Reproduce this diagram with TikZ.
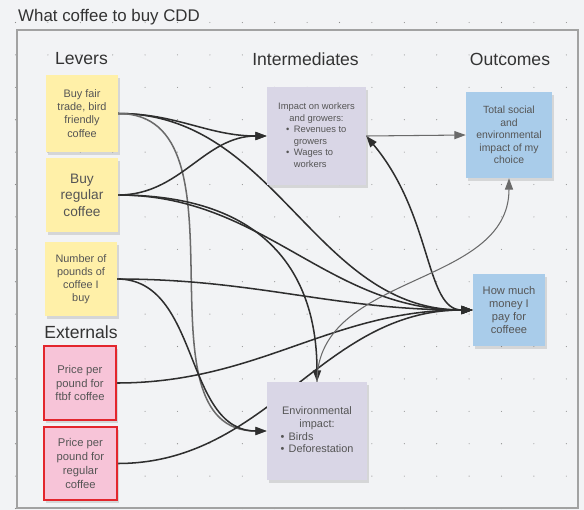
\documentclass[tikz,border=0pt]{standalone}
\usepackage{fontspec}
\setmainfont{Liberation Sans}
\usetikzlibrary{arrows.meta,shadows}

\definecolor{paper}{HTML}{F2F3F5}
\definecolor{dotc}{HTML}{8C8C8C}
\definecolor{framec}{HTML}{A2A2A2}
\definecolor{ink}{HTML}{555555}
\definecolor{hdrink}{HTML}{333333}
\definecolor{wire}{HTML}{2E2E2E}
\definecolor{wirelight}{HTML}{6A6A6A}
\definecolor{levfill}{HTML}{FFF0A8}
\definecolor{extfill}{HTML}{F7C4D8}
\definecolor{extline}{HTML}{E3262D}
\definecolor{midfill}{HTML}{D9D6E6}
\definecolor{outfill}{HTML}{A9CCEA}

\pgfdeclarelayer{bg}
\pgfdeclarelayer{links}
\pgfsetlayers{bg,links,main}

\newcommand{\boxfont}[2]{\fontsize{#1}{#2}\selectfont}

\begin{document}
\begin{tikzpicture}[x=0.3mm, y=-0.3mm, >={Triangle[length=3.4mm,width=2.4mm]},
    note/.style = {minimum width=21.6mm, minimum height=22.2mm, inner sep=1mm, align=center, text=ink,
                   drop shadow={shadow xshift=0.5mm, shadow yshift=-0.8mm, opacity=0.25}},
    lever/.style = {note, fill=levfill, font=\boxfont{9.3}{11.2}},
    ext/.style = {note, fill=extfill, draw=extline, line width=1pt, font=\boxfont{9.6}{11.7}},
    mid/.style = {note, fill=midfill, minimum width=30mm, minimum height=29.4mm},
    outc/.style = {note, fill=outfill},
    hdr/.style = {text=hdrink, font=\boxfont{15}{18}},
    link/.style = {->, draw=wire, line width=1.3pt},
    thinlink/.style = {->, draw=wirelight, line width=0.9pt}]
    \useasboundingbox (0,0) rectangle (584,510);

    % canvas: paper, dot grid and the board frame
    \begin{pgfonlayer}{bg}
        \fill[paper] (0,0) rectangle (584,510);
        \foreach \gx in {0,...,17}
            \foreach \gy in {0,...,15}
                \fill[dotc] (15.5+32.4*\gx, 22.5+32.4*\gy) circle (0.55);
        \draw[framec, line width=0.9pt] (17,30) rectangle (578,508);
    \end{pgfonlayer}

    \node[anchor=base west, inner sep=0, text=hdrink, font=\boxfont{14.4}{17}] (title) at (18,21.5) {What coffee to buy CDD};

    % column headers
    \node[hdr] (levhdr) at (81.5,59) {Levers};
    \node[hdr] (midhdr) at (305.5,59) {Intermediates};
    \node[hdr] (outhdr) at (510,59) {Outcomes};
    \node[hdr] (exthdr) at (81,332) {Externals};

    % levers
    \node[lever, minimum height=23.1mm] (lv1) at (82,113.5) {Buy fair\\trade, bird\\friendly\\coffee};
    \node[lever, font=\boxfont{11.7}{14}] (lv2) at (82,195) {Buy\\regular\\coffee};
    \node[lever] (lv3) at (81,279) {Number of\\pounds of\\coffee I\\buy};

    % externals
    \node[ext] (ex1) at (80,383) {Price per\\pound for\\ftbf coffee};
    \node[ext, minimum width=21.9mm, minimum height=21.9mm] (ex2) at (80.5,463.5) {Price per\\pound for\\regular\\coffee};

    % intermediates
    \node[mid, minimum width=29.7mm, font=\boxfont{8}{9.8}] (imp1) at (316.5,136) {%
        \begin{tabular}{@{\hspace{2.4mm}}l@{\hspace{1.3mm}}l@{}}
            \multicolumn{2}{@{}c@{}}{Impact on workers}\\
            \multicolumn{2}{@{}c@{}}{and growers:}\\
            \textbullet & Revenues to\\
                        & growers\\
            \textbullet & Wages to\\
                        & workers
        \end{tabular}};
    \node[mid, font=\boxfont{9.3}{11}] (imp2) at (317,431) {%
        \begin{tabular}{@{}l@{\hspace{1.3mm}}l@{}}
            \multicolumn{2}{@{}c@{}}{Environmental}\\
            \multicolumn{2}{@{}c@{}}{impact:}\\
            \textbullet & Birds\\
            \textbullet & Deforestation
        \end{tabular}};

    % outcomes
    \node[outc, minimum width=25.8mm, minimum height=25.8mm, font=\boxfont{8.9}{10.6}] (out1) at (509,135) {Total social\\and\\environmental\\impact of my\\choice};
    \node[outc, minimum height=21.6mm, font=\boxfont{9.5}{11.2}] (out2) at (509,310) {How much\\money I\\pay for\\coffeee};

    % connectors
    \begin{pgfonlayer}{links}
        \draw (lv1.east) edge[link, out=0, in=180] (imp1.west);
        \draw (lv1.east) edge[link, out=0, in=180] (out2.west);
        \draw (lv1.east) edge[link, draw=wirelight, out=0, in=180] (imp2.west);
        \draw (lv2.east) edge[link, out=0, in=180] (imp1.west);
        \draw (lv2.east) edge[link, out=0, in=180] (out2.west);
        \draw (lv2.east) edge[link, out=0, in=90, out looseness=1.4] (imp2.north);
        \draw (lv3.east) edge[link, out=0, in=180] (out2.west);
        \draw (lv3.east) edge[link, out=0, in=180] (imp2.west);
        \draw (ex1.east) edge[link, out=0, in=180] (out2.west);
        \draw (ex2.east) edge[link, out=0, in=180] (out2.west);
        \draw (imp1.east) edge[thinlink] (out1.west);
        \draw (imp1.east) edge[link, <->, out=-50, in=180, out looseness=1.3, in looseness=0.6] (out2.west);
        \draw (imp2.north) edge[thinlink, out=90, in=-90] (out1.south);
    \end{pgfonlayer}
\end{tikzpicture}
\end{document}
